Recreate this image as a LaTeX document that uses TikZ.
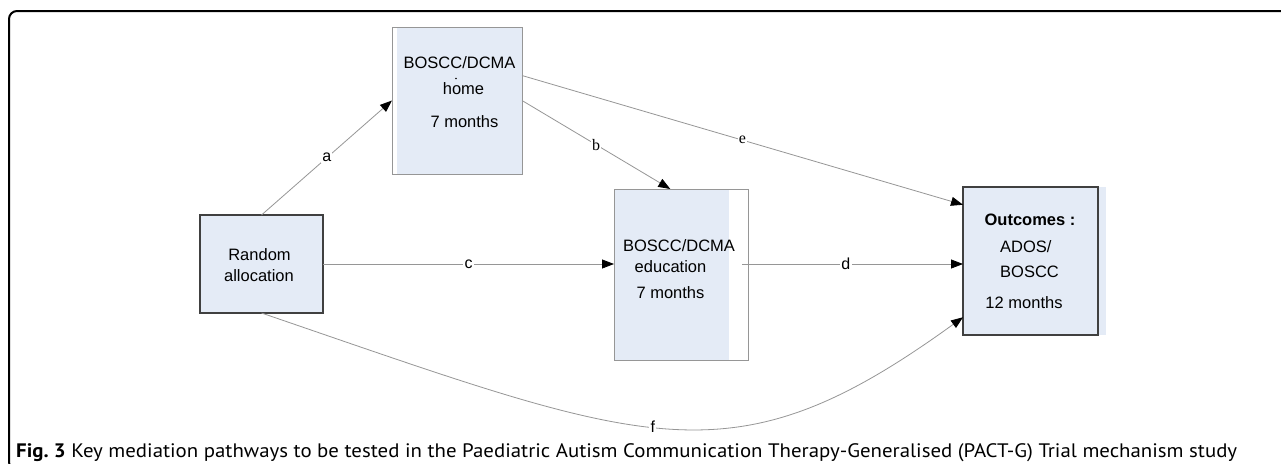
\documentclass[tikz,border=0pt]{standalone}
\usepackage{fontspec}
\usepackage{graphicx}
\setmainfont{Liberation Sans}
\newfontfamily\capfont{PT Sans}
\newfontfamily\serfont{Liberation Serif}
\usetikzlibrary{arrows.meta,calc}
\definecolor{boxfill}{RGB}{228,235,246}
\definecolor{lightedge}{RGB}{150,150,150}
\definecolor{darkedge}{RGB}{64,64,64}
\definecolor{linegray}{RGB}{150,150,150}
\tikzset{
  lightbox/.style={draw=lightedge, line width=1pt, inner sep=0pt, outer sep=0pt},
  darkbox/.style={draw=darkedge, line width=1.3pt, inner sep=0pt, outer sep=0pt},
  txt/.style={anchor=base, inner sep=0pt, font=\fontsize{16.5}{19}\selectfont},
  conn/.style={draw=linegray, line width=0.8pt, -{Triangle[length=12pt,width=9pt,fill=black,color=black]}},
  lbl/.style={fill=white, inner sep=1.2pt, text=black, font=\fontsize{16}{19}\selectfont},
}
\begin{document}
\begin{tikzpicture}[x=1pt,y=-1pt]
\useasboundingbox (0,0) rectangle (1281,463);
\clip (0,0) rectangle (1281,463);
\fill[white] (0,0) rectangle (1281,463);
% outer frame
\draw[line width=2pt, rounded corners=8pt] (9,11) rectangle (1300,470);

% fills
\fill[boxfill] (397,27) rectangle (522,174);
\fill[boxfill] (614,189) rectangle (729,360);
\fill[boxfill] (200,215) rectangle (323,313);
\fill[boxfill] (963,187) rectangle (1106,335);

% boxes
\node[lightbox, minimum width=130pt, minimum height=147pt] (home) at (457,100.5) {};
\node[lightbox, minimum width=134pt, minimum height=171pt] (edu) at (681,274.5) {};
\node[darkbox, minimum width=123pt, minimum height=98pt] (rand) at (261.5,264) {};
\node[darkbox, minimum width=135pt, minimum height=148pt] (out) at (1030.5,261) {};

% texts
\node[txt] (h1) at (459.5,68) {BOSCC/DCMA};
\node[txt] (h2) at (463.5,94) {home};
\fill[black] (456,78.5) circle (0.9pt);
\node[txt] (h3) at (464.5,127.5) {7 months};

\node[txt] (e1) at (679,251) {BOSCC/DCMA};
\node[txt] (e2) at (670.5,272) {education};
\node[txt] (e3) at (670.5,298) {7 months};

\node[txt] (r1) at (259.5,260) {Random};
\node[txt] (r2) at (259,281) {allocation};

\node[txt, font=\fontsize{16.5}{19}\selectfont\bfseries] (o1) at (1030,225) {Outcomes :};
\node[txt, anchor=base west] (o2) at (1000,252) {ADOS/};
\node[txt, anchor=base west] (o3) at (1000,277) {BOSCC};
\node[txt] (o4) at (1024,308) {12 months};

% connectors
\coordinate (bend) at ($(edu.north west)!0.42!(edu.north east)$);
\coordinate (estart) at ($(home.north east)!0.33!(home.south east)$);
\coordinate (eend) at ($(out.north west)!0.12!(out.south west)$);
\coordinate (fend) at ($(out.north west)!0.88!(out.south west)$);
\coordinate (dstart) at ($(edu.east |- rand.east)+(-6,0)$);

\draw[conn] (rand.north) -- (home.west) node[lbl, pos=0.5] (la) {a};
\draw[conn] (home.east) -- (bend) node[lbl, pos=0.5, font=\fontsize{16}{19}\serfont] (lb) {b};
\draw[conn] (estart) -- (eend) node[lbl, pos=0.5, font=\fontsize{16}{19}\serfont] (le) {e};
\draw[conn] (rand.east) -- (edu.west |- rand.east) node[lbl, pos=0.5] (lc) {c};
\draw[conn] (dstart) -- (out.west |- rand.east) node[lbl, pos=0.47] (ld) {d};
\draw[conn] (rand.south) .. controls (650,446) and (730,486) .. (fend) node[lbl, pos=0.47] (lf) {f};

% caption
\node[anchor=base west, inner sep=0pt] (cap) at (16,457) {\resizebox{1221pt}{\height}{\capfont\fontsize{19.5}{23}\selectfont\textbf{Fig.~3} Key mediation pathways to be tested in the Paediatric Autism Communication Therapy-Generalised (PACT-G) Trial mechanism study}};
\end{tikzpicture}
\end{document}
